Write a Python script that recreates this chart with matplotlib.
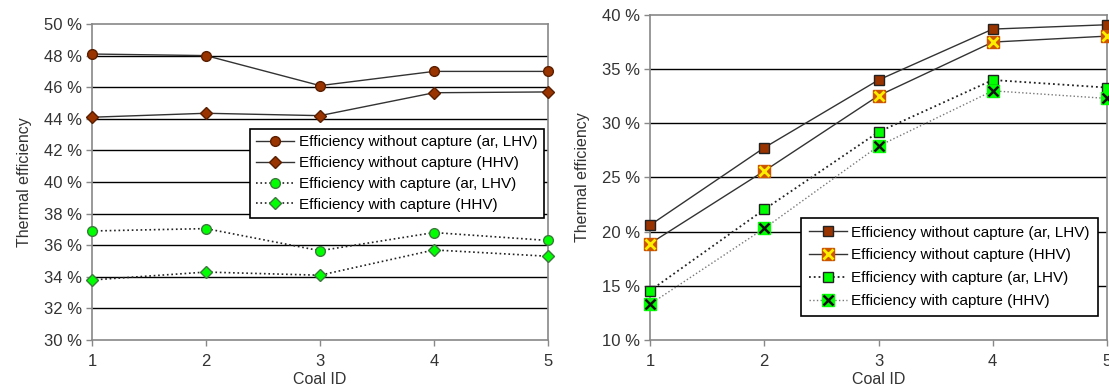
import matplotlib
matplotlib.use("Agg")
import matplotlib.pyplot as plt
from matplotlib.legend_handler import HandlerTuple
from matplotlib.ticker import FuncFormatter

plt.rcParams["font.family"] = ["Liberation Sans", "DejaVu Sans"]

coal_id = [1, 2, 3, 4, 5]

# left panel (%)
left_wo_lhv = [48.1, 48.0, 46.1, 47.0, 47.0]
left_wo_hhv = [44.1, 44.35, 44.2, 45.65, 45.7]
left_w_lhv = [36.9, 37.05, 35.65, 36.8, 36.3]
left_w_hhv = [33.8, 34.3, 34.1, 35.7, 35.3]

# right panel (%)
right_wo_lhv = [20.6, 27.75, 34.0, 38.7, 39.1]
right_wo_hhv = [18.9, 25.6, 32.55, 37.5, 38.05]
right_w_lhv = [14.55, 22.05, 29.2, 34.0, 33.3]
right_w_hhv = [13.3, 20.3, 27.9, 33.0, 32.3]

labels = ["Efficiency without capture (ar, LHV)",
          "Efficiency without capture (HHV)",
          "Efficiency with capture (ar, LHV)",
          "Efficiency with capture (HHV)"]

W, H = 1109, 390
BROWN = "#993300"
GREEN = "#00ff00"
TXT = "#333333"


def style_axes(ax, ylim, yticks):
    ax.set_xlim(1, 5)
    ax.set_ylim(*ylim)
    ax.set_xticks(coal_id)
    ax.set_yticks(yticks)
    ax.yaxis.set_major_formatter(FuncFormatter(lambda v, p: "%d %%" % v))
    for t in yticks[1:-1]:
        ax.axhline(t, color="black", lw=1.0, zorder=1)
    for s in ax.spines.values():
        s.set_color("#888888")
        s.set_linewidth(1.2)
    ax.tick_params(axis="both", direction="out", length=4, width=1,
                   color="#888888", labelsize=12, labelcolor=TXT)
    ax.tick_params(axis="y", pad=3)
    ax.tick_params(axis="x", pad=6)
    ax.set_xlabel("Coal ID", fontsize=11.5, color=TXT, labelpad=2)
    ax.set_ylabel("Thermal efficiency", fontsize=11.5, color=TXT, labelpad=9)


fig = plt.figure(figsize=(W / 100, H / 100), dpi=100)

# ---- left panel
ax1 = fig.add_axes([92 / W, (H - 340) / H, (548 - 92) / W, (340 - 24) / H])
style_axes(ax1, (30, 50), list(range(30, 51, 2)))

l1, = ax1.plot(coal_id, left_wo_lhv, color="#333333", lw=1, marker="o", ms=7,
               mfc=BROWN, mec="#5a1e00", clip_on=False, zorder=3)
l2, = ax1.plot(coal_id, left_wo_hhv, color="#333333", lw=1, marker="D", ms=6.5,
               mfc=BROWN, mec="#5a1e00", clip_on=False, zorder=3)
l3, = ax1.plot(coal_id, left_w_lhv, color="#222222", lw=1.2, ls=":", marker="o", ms=7,
               mfc=GREEN, mec="#3a7a3a", clip_on=False, zorder=3)
l4, = ax1.plot(coal_id, left_w_hhv, color="#222222", lw=1.2, ls=":", marker="D", ms=6.5,
               mfc=GREEN, mec="#3a7a3a", clip_on=False, zorder=3)
leg1 = ax1.legend([l1, l2, l3, l4], labels, loc="upper left",
                  bbox_to_anchor=((250 - 92) / (548 - 92), 1 - (129 - 24) / (340 - 24)),
                  fontsize=11, frameon=True, fancybox=False, framealpha=1,
                  edgecolor="black", borderpad=0.4, labelspacing=0.45,
                  handlelength=2.5, handletextpad=0.3, borderaxespad=0)
leg1.get_frame().set_linewidth(1.2)

# ---- right panel
ax2 = fig.add_axes([650 / W, (H - 340) / H, (1107 - 650) / W, (340 - 15) / H])
style_axes(ax2, (10, 40), list(range(10, 41, 5)))

r1, = ax2.plot(coal_id, right_wo_lhv, color="#333333", lw=1, marker="s", ms=7.5,
               mfc=BROWN, mec="#222222", clip_on=False, zorder=3)
r2, = ax2.plot(coal_id, right_wo_hhv, color="#333333", lw=1, marker="s", ms=8.5,
               mfc="#cc5500", mec="#cc5500", clip_on=False, zorder=3)
r2x, = ax2.plot(coal_id, right_wo_hhv, ls="none", marker="x", ms=6.5, mew=2,
                color="#ffee00", clip_on=False, zorder=4)
r3, = ax2.plot(coal_id, right_w_lhv, color="#222222", lw=1.3, ls=":", marker="s", ms=7.5,
               mfc=GREEN, mec="#222222", clip_on=False, zorder=3)
r4, = ax2.plot(coal_id, right_w_hhv, color="#777777", lw=1, ls=":", marker="s", ms=8.5,
               mfc=GREEN, mec=GREEN, clip_on=False, zorder=3)
r4x, = ax2.plot(coal_id, right_w_hhv, ls="none", marker="x", ms=6.5, mew=1.8,
                color="#111111", clip_on=False, zorder=4)
leg2 = ax2.legend([r1, (r2, r2x), r3, (r4, r4x)], labels, loc="upper left",
                  handler_map={tuple: HandlerTuple(ndivide=1, pad=0)},
                  bbox_to_anchor=((801 - 650) / (1107 - 650), 1 - (218 - 15) / (340 - 15)),
                  fontsize=11, frameon=True, fancybox=False, framealpha=1,
                  edgecolor="black", borderpad=0.5, labelspacing=0.58,
                  handlelength=2.5, handletextpad=0.3, borderaxespad=0)
leg2.get_frame().set_linewidth(1.2)

fig.savefig("out.png", dpi=100)
